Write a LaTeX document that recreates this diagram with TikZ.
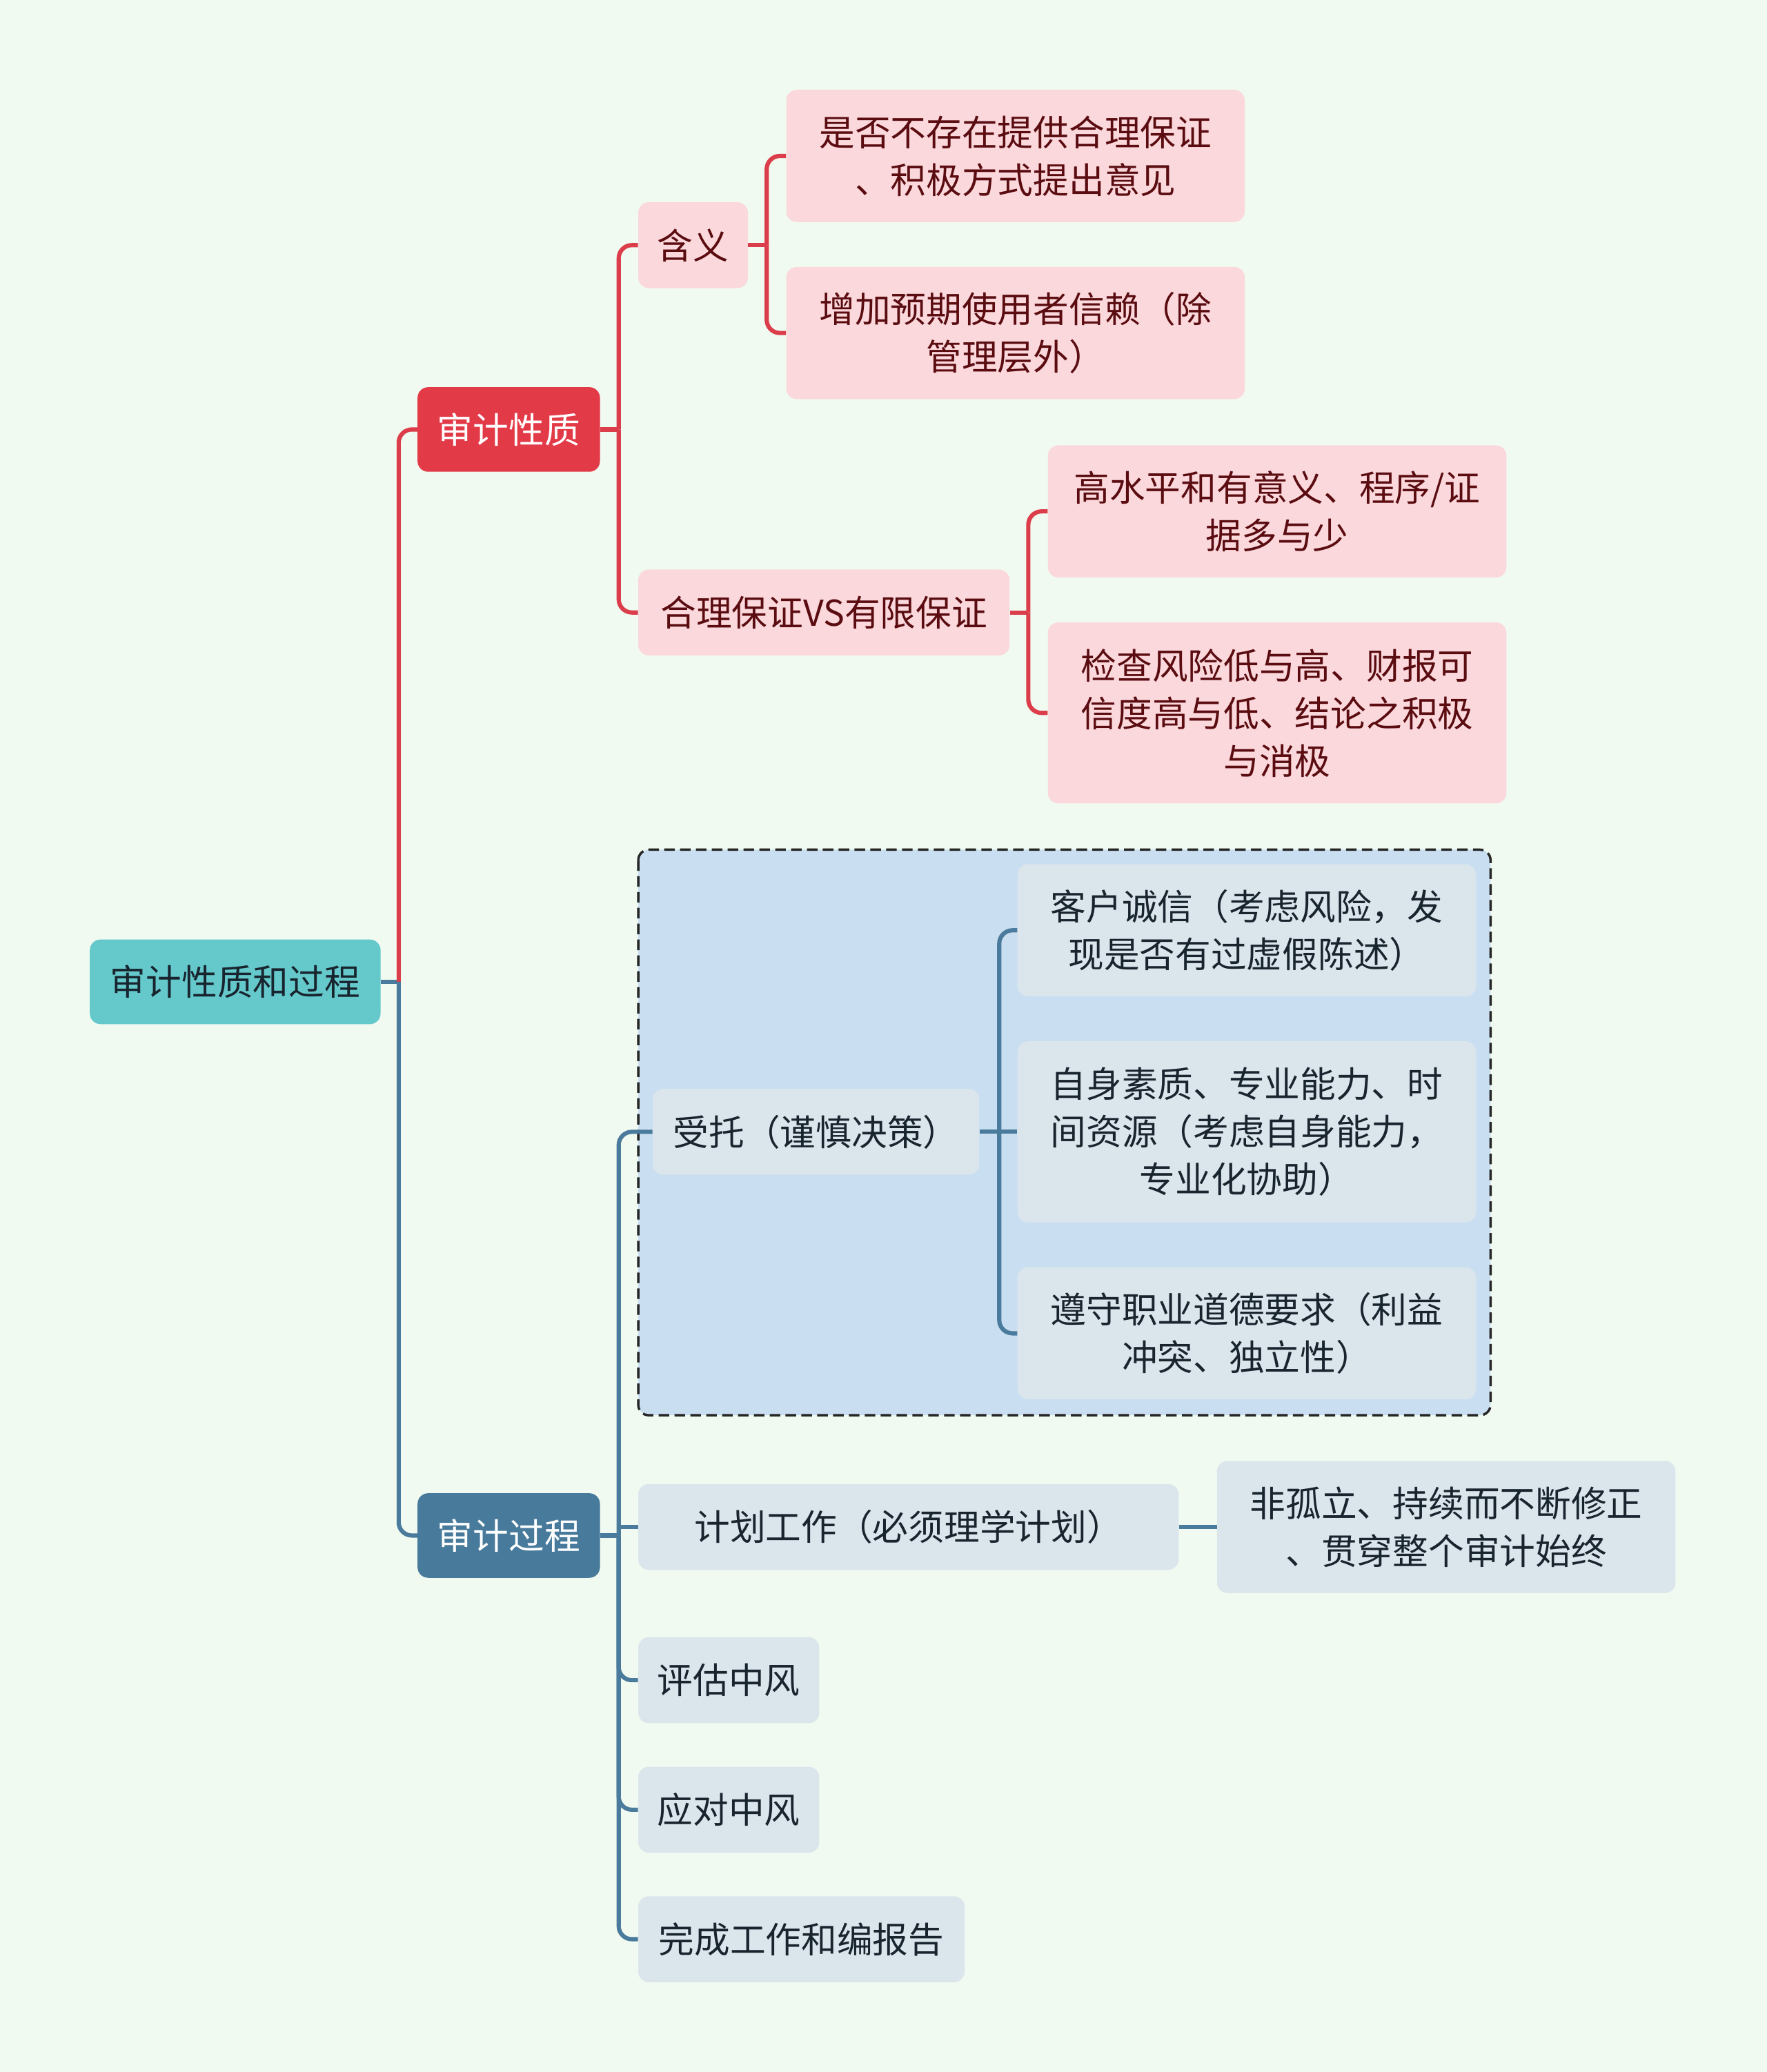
\documentclass[tikz,border=0pt]{standalone}
\usepackage{fontspec}
\setmainfont{Noto Sans CJK SC}
\usetikzlibrary{calc}
\definecolor{bgc}{HTML}{F1FAF0}
\definecolor{rootc}{HTML}{65C9CC}
\definecolor{redc}{HTML}{E33A48}
\definecolor{pinkc}{HTML}{FAD8DC}
\definecolor{pinktxt}{HTML}{5A0C10}
\definecolor{bluec}{HTML}{477A9B}
\definecolor{leafb}{HTML}{DBE5EC}
\definecolor{leaftxt}{HTML}{18242E}
\definecolor{grpc}{HTML}{C9DFF1}
\definecolor{redl}{HTML}{DB3D4A}
\definecolor{bluel}{HTML}{4A7B9C}
\tikzset{
  box/.style={rectangle, rounded corners=8pt, inner sep=0pt, align=center,
    font=\fontsize{27}{36}\selectfont},
  rootbox/.style={box, fill=rootc, text=leaftxt},
  redbox/.style={box, fill=redc, text=white},
  bluebox/.style={box, fill=bluec, text=white},
  pinkbox/.style={box, fill=pinkc, text=pinktxt},
  lbbox/.style={box, fill=leafb, text=leaftxt},
  rline/.style={draw=redl, line width=3.2pt, rounded corners=10pt},
  bline/.style={draw=bluel, line width=3.2pt, rounded corners=10pt},
  grpbox/.style={draw=black!85, fill=grpc, line width=1.8pt, dash pattern=on 8pt off 4pt, rounded corners=8pt}
}
\begin{document}
\begin{tikzpicture}[x=1pt,y=-1pt]
\useasboundingbox (0,0) rectangle (1337,1568);
\fill[bgc] (0,0) rectangle (1337,1568);
% group
\draw[grpbox] (483,643) rectangle (1128,1071);
% nodes
\node[rootbox, minimum width=220pt, minimum height=64pt] (root) at (178,743) {审计性质和过程};
\node[redbox, minimum width=138pt, minimum height=64pt] (n1) at (385,325) {审计性质};
\node[bluebox, minimum width=138pt, minimum height=64pt] (n2) at (385,1162) {审计过程};
\node[pinkbox, minimum width=83pt, minimum height=65pt] (a) at (524.5,185.5) {含义};
\node[pinkbox, minimum width=281pt, minimum height=65pt] (b) at (623.5,463.5) {合理保证VS有限保证};
\node[pinkbox, minimum width=347pt, minimum height=100pt] (a1) at (768.5,118) {是否不存在提供合理保证\\、积极方式提出意见};
\node[pinkbox, minimum width=347pt, minimum height=100pt] (a2) at (768.5,252) {增加预期使用者信赖（除\\管理层外）};
\node[pinkbox, minimum width=347pt, minimum height=100pt] (b1) at (966.5,387) {高水平和有意义、程序/证\\据多与少};
\node[pinkbox, minimum width=347pt, minimum height=137pt] (b2) at (966.5,539.5) {检查风险低与高、财报可\\信度高与低、结论之积极\\与消极};
\node[lbbox, minimum width=247pt, minimum height=65pt] (c) at (617.5,856.5) {受托（谨慎决策）};
\node[lbbox, minimum width=347pt, minimum height=100pt] (c1) at (943.5,704) {客户诚信（考虑风险，发\\现是否有过虚假陈述）};
\node[lbbox, minimum width=347pt, minimum height=137pt] (c2) at (943.5,856.5) {自身素质、专业能力、时\\间资源（考虑自身能力，\\专业化协助）};
\node[lbbox, minimum width=347pt, minimum height=100pt] (c3) at (943.5,1009) {遵守职业道德要求（利益\\冲突、独立性）};
\node[lbbox, minimum width=409pt, minimum height=65pt] (d) at (687.5,1155.5) {计划工作（必须理学计划）};
\node[lbbox, minimum width=347pt, minimum height=100pt] (d1) at (1094.5,1155.5) {非孤立、持续而不断修正\\、贯穿整个审计始终};
\node[lbbox, minimum width=137pt, minimum height=65pt] (e) at (551.5,1271.5) {评估中风};
\node[lbbox, minimum width=137pt, minimum height=65pt] (f) at (551.5,1369.5) {应对中风};
\node[lbbox, minimum width=247pt, minimum height=65pt] (g) at (606.5,1467.5) {完成工作和编报告};
% junction coordinates
\coordinate (jr) at ($(root.east)+(13.5,0)$);
\coordinate (j1) at ($(n1.east)+(14,0)$);
\coordinate (ja) at ($(a.east)+(14,0)$);
\coordinate (jb) at ($(b.east)+(14,0)$);
\coordinate (j2) at ($(n2.east)+(14,0)$);
\coordinate (jc) at ($(c.east)+(15,0)$);
% root connectors
\draw[bline] (root.east) -- (jr);
\draw[rline] (jr) |- (n1.west);
\draw[bline] (jr) |- (n2.west);
% red subtree
\draw[rline] (n1.east) -- (j1);
\draw[rline] (j1) |- (a.west);
\draw[rline] (j1) |- (b.west);
\draw[rline] (a.east) -- (ja);
\draw[rline] (ja) |- (a1.west);
\draw[rline] (ja) |- (a2.west);
\draw[rline] (b.east) -- (jb);
\draw[rline] (jb) |- (b1.west);
\draw[rline] (jb) |- (b2.west);
% blue subtree
\draw[bline] (n2.east) -- (j2);
\draw[bline] (j2) |- (c.west);
\draw[bline] (j2 |- d.west) -- (d.west);
\draw[bline] (j2) |- (e.west);
\draw[bline] (j2) |- (f.west);
\draw[bline] (j2) |- (g.west);
\draw[bline] (c.east) -- (jc);
\draw[bline] (jc) |- (c1.west);
\draw[bline] (jc |- c2.west) -- (c2.west);
\draw[bline] (jc) |- (c3.west);
\draw[bline] (d.east) -- (d1.west);
\end{tikzpicture}
\end{document}
